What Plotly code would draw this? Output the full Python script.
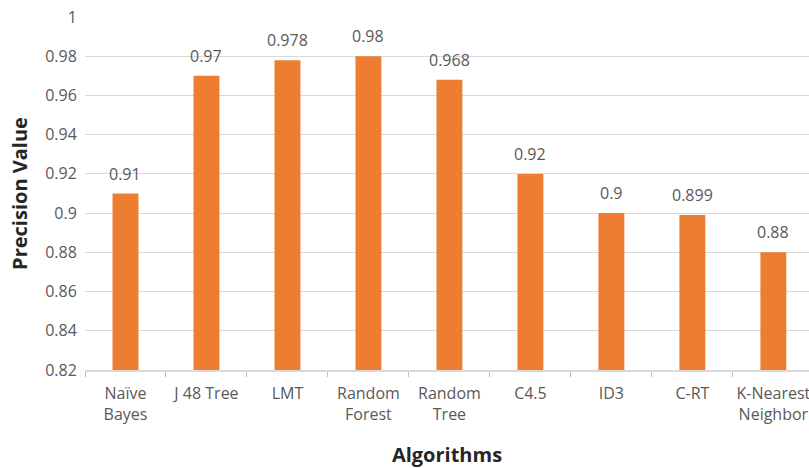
import plotly.graph_objects as go

categories = ["Naïve<br>Bayes", "J 48 Tree", "LMT", "Random<br>Forest", "Random<br>Tree",
              "C4.5", "ID3", "C-RT", "K-Nearest<br>Neighbor"]
precision = [0.91, 0.97, 0.978, 0.98, 0.968, 0.92, 0.9, 0.899, 0.88]
labels = ["0.91", "0.97", "0.978", "0.98", "0.968", "0.92", "0.9", "0.899", "0.88"]
y_ticks = [0.82, 0.84, 0.86, 0.88, 0.9, 0.92, 0.94, 0.96, 0.98, 1]
y_tick_text = ["0.82", "0.84", "0.86", "0.88", "0.9", "0.92", "0.94", "0.96", "0.98", "1"]

fig = go.Figure(go.Bar(
    x=categories, y=precision,
    marker=dict(color="#ED7D31", line=dict(width=0)),
))

for c, v, t in zip(categories, precision, labels):
    fig.add_annotation(x=c, y=v, text=t, showarrow=False, yanchor="bottom",
                       yshift=7, font=dict(size=16, color="#595959"))

fig.update_layout(
    width=809, height=468,
    margin=dict(l=85, r=0, t=17, b=98),
    paper_bgcolor="white", plot_bgcolor="white",
    font=dict(family="Open Sans", color="#595959"),
    bargap=0.68, showlegend=False,
)
fig.update_xaxes(
    range=[-0.5, 8.44], automargin=False,
    tickfont=dict(size=16, color="#595959"),
    ticks="outside", tickson="boundaries", ticklen=5, tickcolor="#BFBFBF",
    ticklabelstandoff=8,
    showline=True, linecolor="#D9D9D9", linewidth=1.5,
    title=dict(text="<b>Algorithms</b>", font=dict(size=20, color="#262626"), standoff=24),
)
fig.update_yaxes(
    range=[0.82, 1.0], tickvals=y_ticks, ticktext=y_tick_text, automargin=False,
    tickfont=dict(size=16, color="#595959"),
    showgrid=True, gridcolor="#D9D9D9", gridwidth=1,
    zeroline=False, showline=False, ticks="outside", ticklen=4, tickcolor="rgba(0,0,0,0)",
    title=dict(text="<b>Precision Value</b>", font=dict(size=20, color="#262626"), standoff=12),
)
fig.write_html("out.html", config={"displayModeBar": False},
               post_script="document.body.style.margin='0';")
